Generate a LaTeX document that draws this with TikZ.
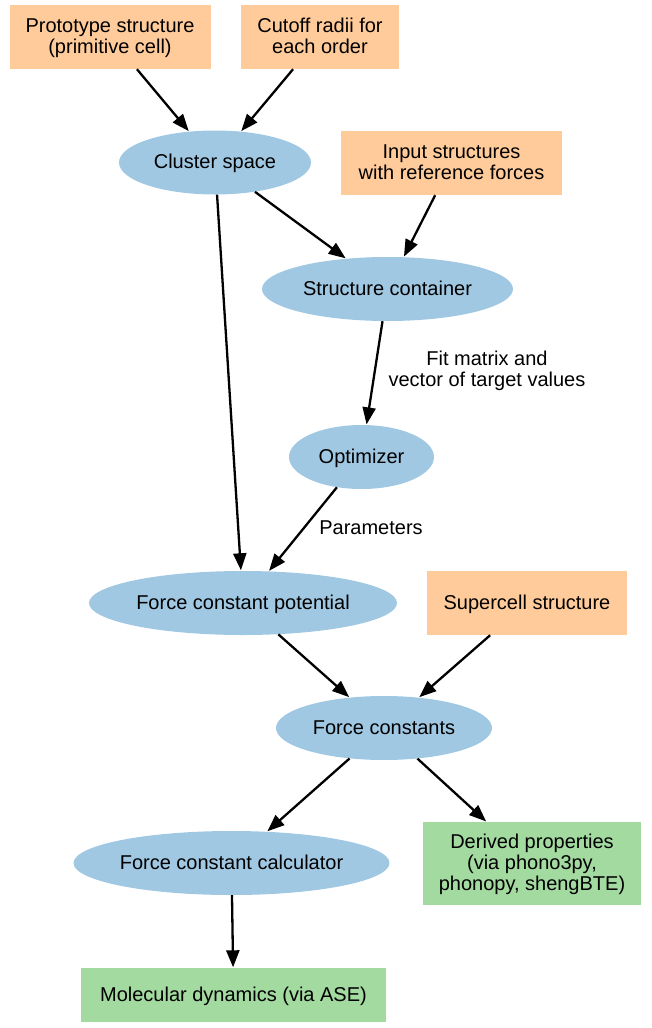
\documentclass[tikz,border=0pt]{standalone}
\usepackage{fontspec}
\setmainfont{Liberation Sans}
\usetikzlibrary{shapes.geometric,arrows.meta}
\definecolor{inputc}{HTML}{FFCB9A}
\definecolor{procc}{HTML}{A0C8E3}
\definecolor{outc}{HTML}{A3DAA0}
\newcommand{\topstrut}{\rule{0pt}{18pt}}
\begin{document}
\begin{tikzpicture}[x=1pt,y=-1pt,
  every node/.style={font=\fontsize{20}{21}\selectfont, align=center, inner sep=0pt,
    execute at begin node={\topstrut},
    execute at end node={\rule[-5.5pt]{0pt}{5.5pt}}},
  inbox/.style={rectangle, fill=inputc, minimum height=64pt},
  outbox/.style={rectangle, fill=outc},
  proc/.style={ellipse, fill=procc, minimum height=64pt},
  flow/.style={line width=2.3pt, -{Triangle[length=17pt,width=13pt]}, shorten >=0.5pt}
]
\useasboundingbox (0,0) rectangle (651,1028);
\node[inbox, minimum width=201pt] (proto) at (110,37) {\topstrut Prototype structure\\(primitive cell)};
\node[inbox, minimum width=158pt] (cutoff) at (320,37) {\topstrut Cutoff radii for\\each order};
\node[proc, minimum width=192pt] (cluster) at (215,162.5) {Cluster space};
\node[inbox, minimum width=221pt] (input) at (451.5,163) {\topstrut Input structures\\with reference forces};
\node[proc, minimum width=251pt] (container) at (387.5,289) {Structure container};
\node[proc, minimum width=145pt] (opt) at (361.5,457) {Optimizer};
\node[proc, minimum width=308pt] (fcp) at (243,603) {Force constant potential};
\node[inbox, minimum width=200pt] (super) at (527,603) {Supercell structure};
\node[proc, minimum width=216pt] (fc) at (384,728) {Force constants};
\node[proc, minimum width=315pt] (calc) at (231.5,863) {Force constant calculator};
\node[outbox, minimum width=218pt, minimum height=83pt] (derived) at (532,863.5) {\topstrut Derived properties\\(via phono3py,\\phonopy, shengBTE)};
\node[outbox, minimum width=305pt, minimum height=54pt] (md) at (233.5,995) {Molecular dynamics (via ASE)};
\draw[flow] (proto) -- (cluster);
\draw[flow] (cutoff) -- (cluster);
\draw[flow] (cluster) -- (container);
\draw[flow] (input) -- (container);
\draw[flow] (cluster) -- (fcp);
\draw[flow] (container) -- (opt);
\node (fittext) at (487,370) {\topstrut Fit matrix and\\vector of target values};
\draw[flow] (opt) -- (fcp);
\node (paramtext) at (371,528.5) {Parameters};
\draw[flow] (fcp) -- (fc);
\draw[flow] (super) -- (fc);
\draw[flow] (fc) -- (calc);
\draw[flow] (fc) -- (derived);
\draw[flow] (calc) -- (md);
\end{tikzpicture}
\end{document}
